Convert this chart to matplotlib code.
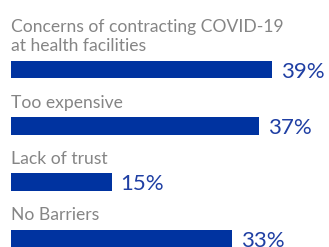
import matplotlib
matplotlib.use("Agg")
import matplotlib.pyplot as plt
import numpy as np

categories = [
    "Concerns of contracting COVID-19\nat health facilities",
    "Too expensive",
    "Lack of trust",
    "No Barriers",
]
values = [39, 37, 15, 33]

BAR_COLOR = "#0033a0"
TEXT_GRAY = "#858585"
VALUE_BLUE = "#1f3fa3"

plt.rcParams["font.family"] = ["Lato", "DejaVu Sans"]

fig = plt.figure(figsize=(3.29, 2.47), dpi=100)
ax = fig.add_axes([0, 0, 1, 1])

unit = 56.3  # px between bars
px_per_val = 6.7
y = np.arange(len(values))
bar_h = 17.5 / unit

ax.barh(y, values, height=bar_h, color=BAR_COLOR)

for i, (cat, v) in enumerate(zip(categories, values)):
    # label sits above the bar
    ax.text(0, i - bar_h / 2 - 9.5 / unit, cat, color=TEXT_GRAY, fontsize=12.6,
            va="baseline", ha="left", linespacing=1.25)
    ax.text(v + 9 / px_per_val, i + bar_h / 2 - 0.5 / unit, f"{v}%", color=VALUE_BLUE,
            fontsize=16, va="baseline", ha="left")

ax.set_xlim(-11 / px_per_val, (329 - 11) / px_per_val)
ax.set_ylim(3 + (247 - 238.5) / unit, -69.5 / unit)
ax.axis("off")

fig.savefig("out.png", dpi=100)
